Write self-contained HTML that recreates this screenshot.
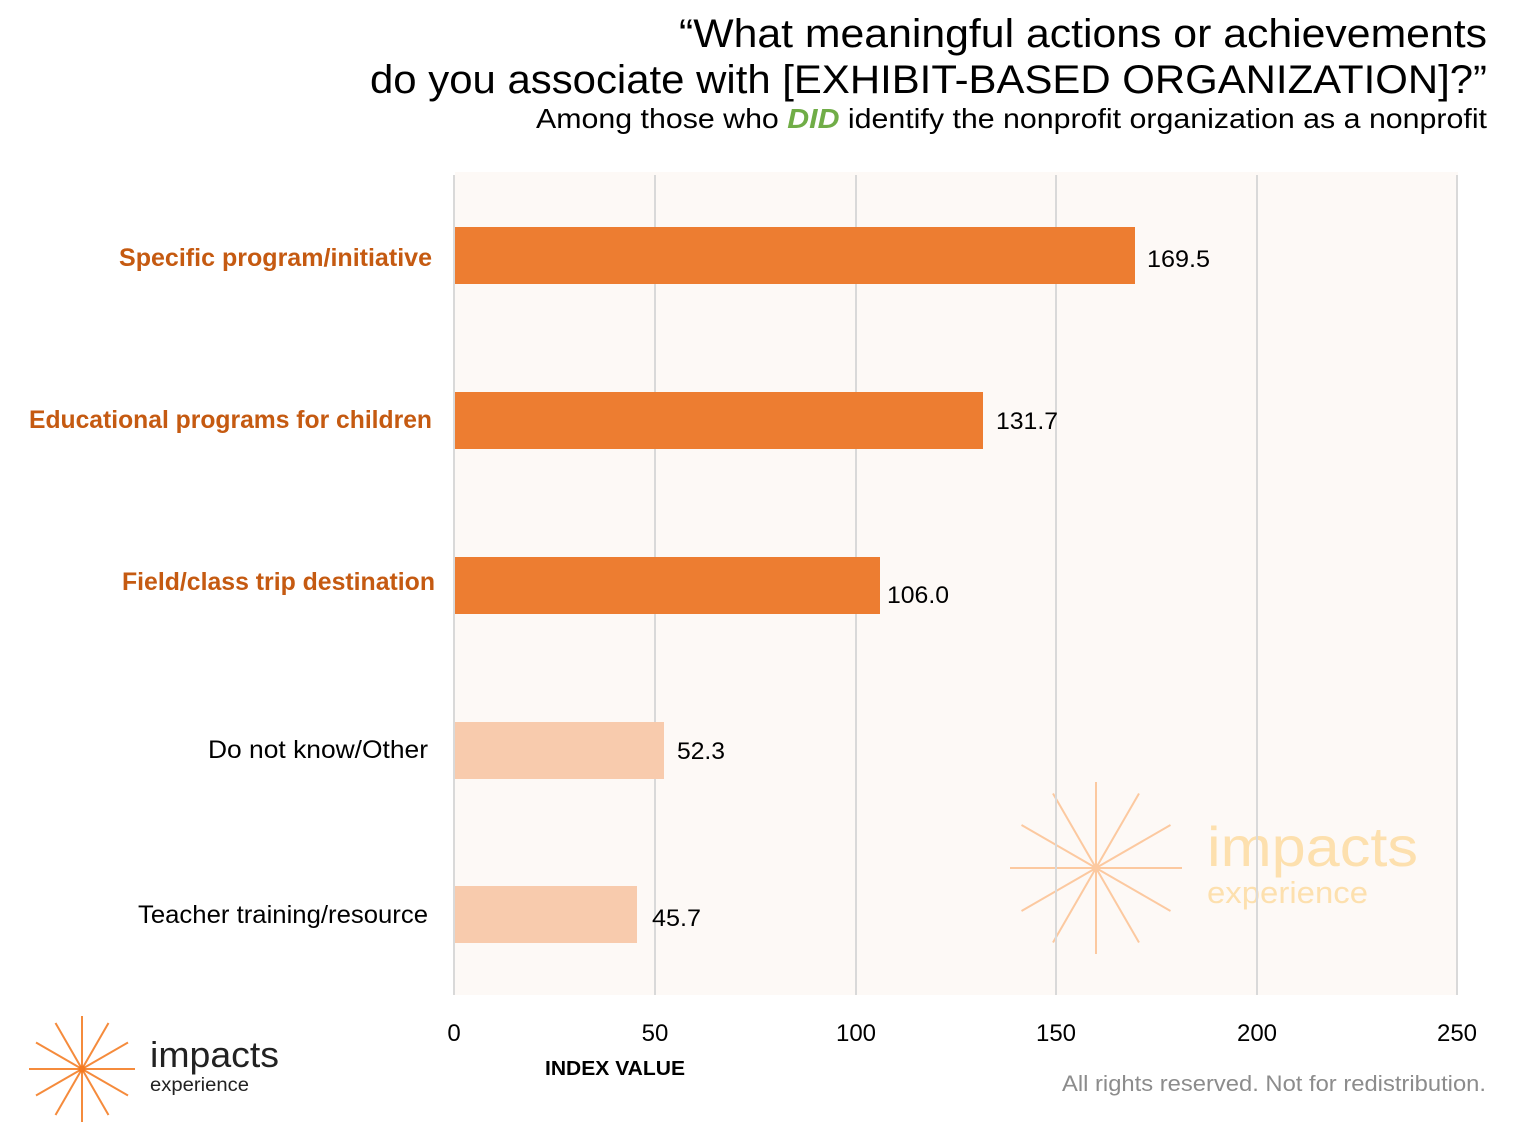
<!DOCTYPE html>
<html><head><meta charset="utf-8"><style>
html,body{margin:0;padding:0;background:#fff;}
svg{display:block;font-family:"Liberation Sans",sans-serif;}
</style></head><body>
<svg width="1528" height="1146" viewBox="0 0 1528 1146" xmlns="http://www.w3.org/2000/svg">
<rect width="1528" height="1146" fill="#fff"/>
<!-- titles -->
<text x="1487" y="47" font-size="40" text-anchor="end" fill="#000" textLength="808" lengthAdjust="spacingAndGlyphs">“What meaningful actions or achievements</text>
<text x="1487" y="93" font-size="40" text-anchor="end" fill="#000" textLength="1117" lengthAdjust="spacingAndGlyphs">do you associate with [EXHIBIT-BASED ORGANIZATION]?”</text>
<text x="1487" y="128" font-size="28" text-anchor="end" fill="#000" textLength="951" lengthAdjust="spacingAndGlyphs">Among those who <tspan font-weight="bold" font-style="italic" fill="#70ad47">DID</tspan> identify the nonprofit organization as a nonprofit</text>
<!-- plot bg -->
<rect x="455" y="172" width="1003" height="823" fill="#fdf9f6"/>
<!-- watermark -->
<g stroke="#fcc9a0" stroke-width="2" transform="translate(1096,868)">
<line x1="0" y1="-86" x2="0" y2="86"/><line x1="-86" y1="0" x2="86" y2="0"/>
<line x1="-43" y1="-74.5" x2="43" y2="74.5"/><line x1="43" y1="-74.5" x2="-43" y2="74.5"/>
<line x1="-74.5" y1="-43" x2="74.5" y2="43"/><line x1="74.5" y1="-43" x2="-74.5" y2="43"/>
<circle r="4" fill="#fcc9a0" stroke="none"/>
</g>
<text x="1207" y="866" font-size="56" fill="#fde0ae" textLength="211" lengthAdjust="spacingAndGlyphs">impacts</text>
<text x="1207" y="903" font-size="31" fill="#fde0ae" textLength="161" lengthAdjust="spacingAndGlyphs">experience</text>
<!-- grid -->
<g stroke="#d9d9d9" stroke-width="2">
<line x1="655" y1="175" x2="655" y2="995"/><line x1="856" y1="175" x2="856" y2="995"/>
<line x1="1056" y1="175" x2="1056" y2="995"/><line x1="1257" y1="175" x2="1257" y2="995"/>
<line x1="1457" y1="175" x2="1457" y2="995"/><line x1="454" y1="175" x2="454" y2="995"/>
</g>
<!-- bars -->
<rect x="455" y="227" width="680" height="57" fill="#ed7d31"/>
<rect x="455" y="392" width="528" height="57" fill="#ed7d31"/>
<rect x="455" y="557" width="425" height="57" fill="#ed7d31"/>
<rect x="455" y="722" width="209" height="57" fill="#f8cbad"/>
<rect x="455" y="886" width="182" height="57" fill="#f8cbad"/>
<!-- values -->
<g font-size="24" fill="#000">
<text x="1147" y="267" textLength="63" lengthAdjust="spacingAndGlyphs">169.5</text>
<text x="996" y="429" textLength="62" lengthAdjust="spacingAndGlyphs">131.7</text>
<text x="887" y="603" textLength="62" lengthAdjust="spacingAndGlyphs">106.0</text>
<text x="677" y="759" textLength="48" lengthAdjust="spacingAndGlyphs">52.3</text>
<text x="652" y="926" textLength="49" lengthAdjust="spacingAndGlyphs">45.7</text>
</g>
<!-- category labels -->
<g font-size="25" text-anchor="end">
<text x="432" y="266" fill="#c55a11" font-weight="bold" textLength="313" lengthAdjust="spacingAndGlyphs">Specific program/initiative</text>
<text x="432" y="428" fill="#c55a11" font-weight="bold" textLength="403" lengthAdjust="spacingAndGlyphs">Educational programs for children</text>
<text x="435" y="590" fill="#c55a11" font-weight="bold" textLength="313" lengthAdjust="spacingAndGlyphs">Field/class trip destination</text>
<text x="428" y="758" fill="#000" textLength="220" lengthAdjust="spacingAndGlyphs">Do not know/Other</text>
<text x="428" y="923" fill="#000" textLength="290" lengthAdjust="spacingAndGlyphs">Teacher training/resource</text>
</g>
<!-- ticks -->
<g font-size="24" fill="#000" text-anchor="middle">
<text x="454" y="1041">0</text><text x="655" y="1041">50</text><text x="856" y="1041">100</text>
<text x="1056" y="1041">150</text><text x="1257" y="1041">200</text><text x="1457" y="1041">250</text>
</g>
<text x="545" y="1075" font-size="20" font-weight="bold" fill="#000" textLength="140" lengthAdjust="spacingAndGlyphs">INDEX VALUE</text>
<text x="1486" y="1091" font-size="22" fill="#8c8c8c" text-anchor="end" textLength="424" lengthAdjust="spacingAndGlyphs">All rights reserved. Not for redistribution.</text>
<!-- logo -->
<g stroke="#f58b3c" stroke-width="2" transform="translate(82,1069)">
<line x1="0" y1="-53" x2="0" y2="53"/><line x1="-53" y1="0" x2="53" y2="0"/>
<line x1="-26.5" y1="-46" x2="26.5" y2="46"/><line x1="26.5" y1="-46" x2="-26.5" y2="46"/>
<line x1="-46" y1="-26.5" x2="46" y2="26.5"/><line x1="46" y1="-26.5" x2="-46" y2="26.5"/>
<circle r="3.5" fill="#f57a20" stroke="none"/>
</g>
<text x="150" y="1067" font-size="36" fill="#222" textLength="129" lengthAdjust="spacingAndGlyphs">impacts</text>
<text x="150" y="1091" font-size="19" fill="#222" textLength="99" lengthAdjust="spacingAndGlyphs">experience</text>
</svg>
</body></html>
